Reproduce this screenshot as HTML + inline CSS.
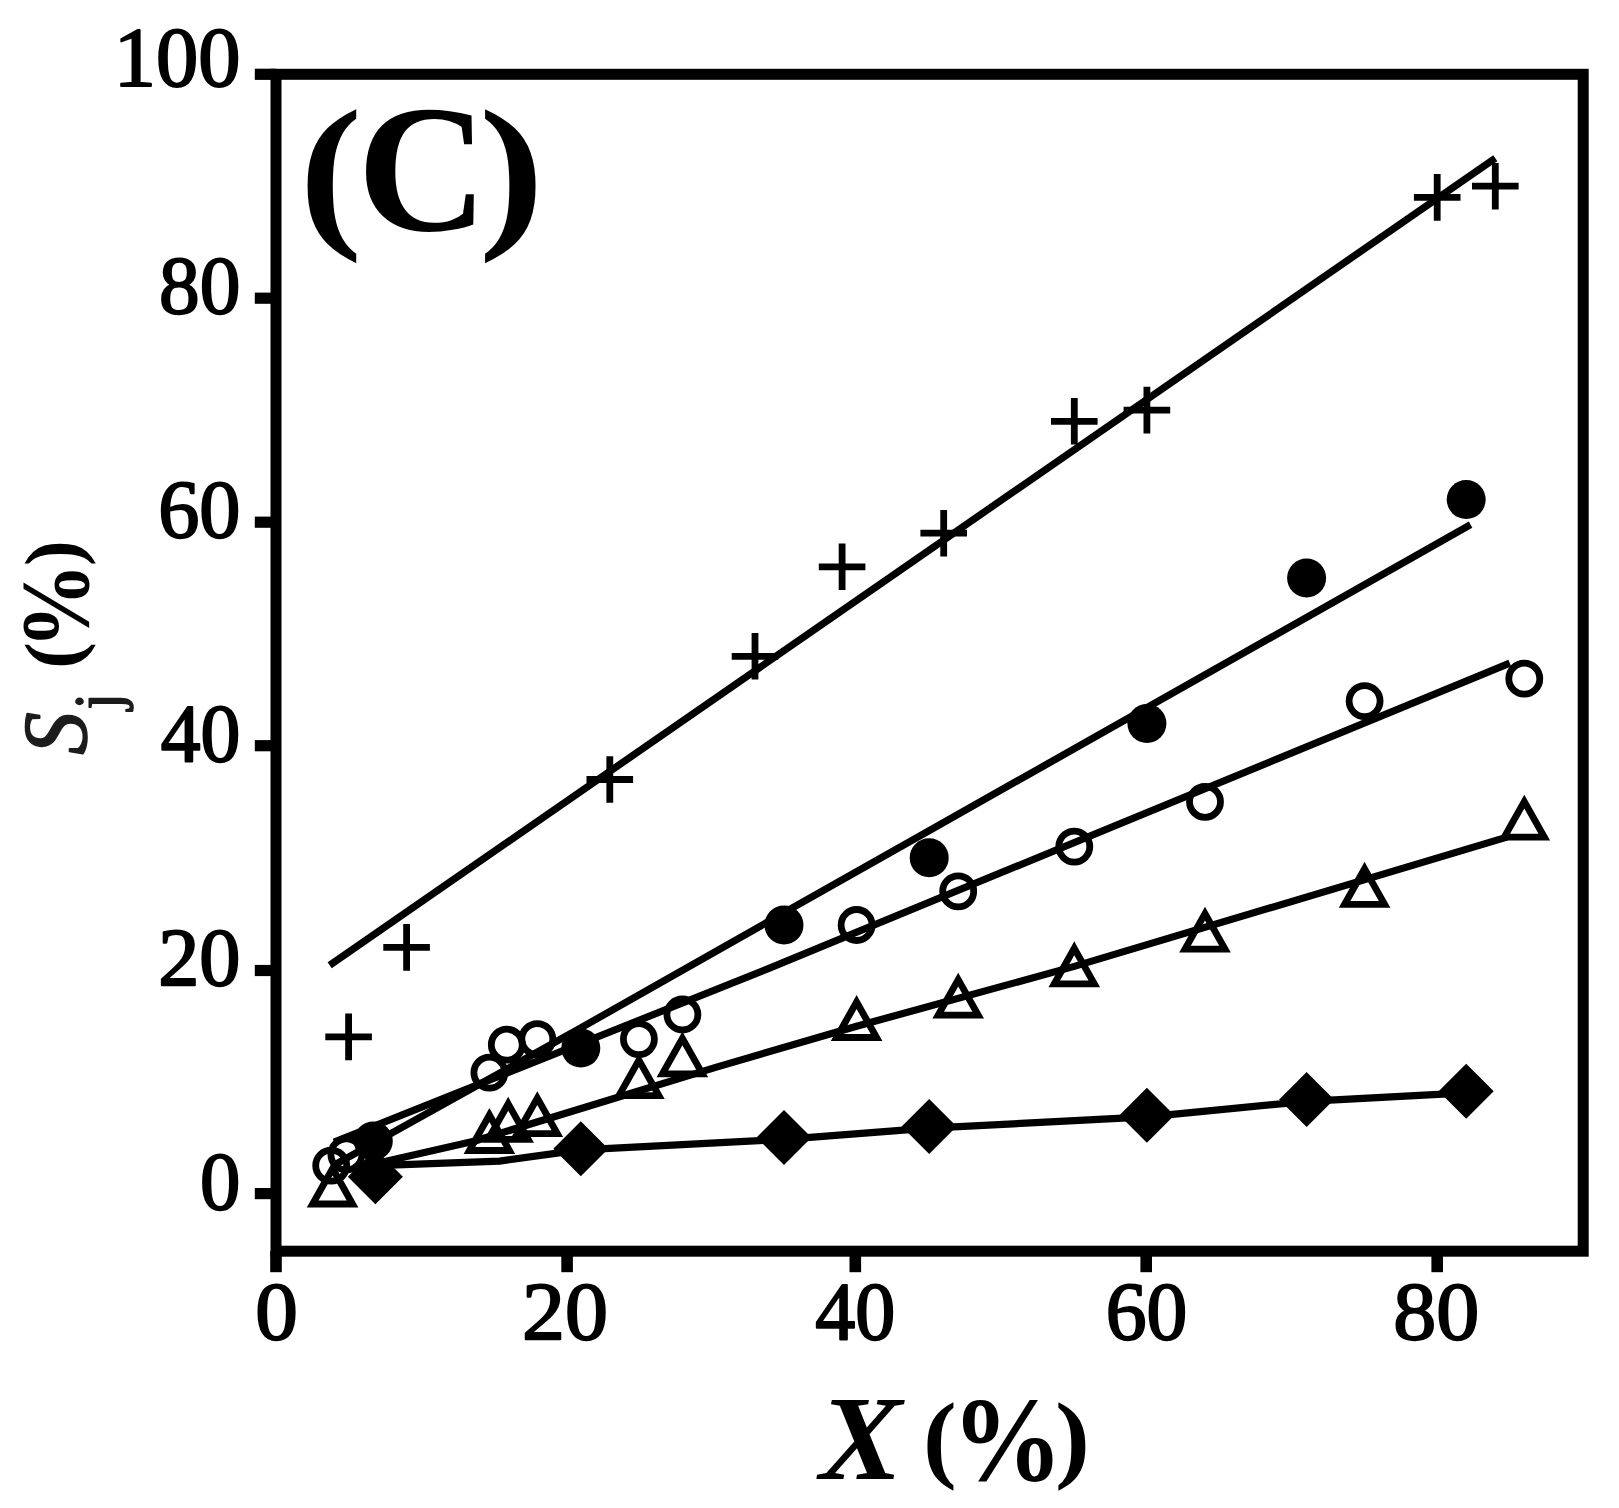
<!DOCTYPE html>
<html lang="en"><head><meta charset="utf-8"><title>Selectivity vs conversion (C)</title>
<style>
html,body{margin:0;padding:0;background:#fff;}
body{width:1619px;height:1508px;overflow:hidden;}
svg{display:block;}
svg text{font-family:"Liberation Serif",serif;font-size:100px;}
</style></head><body>
<svg width="1619" height="1508" viewBox="0 0 1619 1508" role="img" aria-label="Plot (C): selectivity Sj (%) versus conversion X (%)">
<defs><filter id="soft" x="0" y="0" width="1619" height="1508" filterUnits="userSpaceOnUse"><feGaussianBlur stdDeviation="0.7"/></filter></defs>
<rect width="1619" height="1508" fill="#fff"/>
<g filter="url(#soft)">
<!-- data series: fitted lines and markers -->
<g stroke="#000" stroke-width="7.2" stroke-linecap="butt" fill="none">
<line x1="329.7" y1="965.3" x2="1495.3" y2="158.2"/>
<polyline points="334.1,1165.1 580.8,1027.9 784.0,912.7 1470.6,524.7" stroke-linejoin="round"/>
<polyline points="334.1,1142.1 769.5,968.1 1509.8,663.1" stroke-linejoin="round"/>
<polyline points="376.2,1163.4 474.9,1141.0 716.5,1067.1 856.6,1026.3 1074.3,966.4 1506.9,837.1" stroke-linejoin="round"/>
<polyline points="376.2,1165.6 499.5,1161.1 580.8,1149.9 784.0,1139.3 929.2,1128.1 1146.9,1116.9 1306.6,1101.3 1466.2,1092.9" stroke-linejoin="round"/>
</g>
<g stroke="#000" stroke-width="6.8" fill="none">
<path d="M325.3 1036.9H371.9M348.6 1013.6V1060.2"/>
<path d="M383.3 947.4H429.9M406.6 924.1V970.7"/>
<path d="M586.5 779.5H633.1M609.8 756.2V802.8"/>
<path d="M731.7 656.3H778.3M755.0 633.0V679.6"/>
<path d="M818.8 566.8H865.4M842.1 543.5V590.1"/>
<path d="M920.4 533.2H967.0M943.7 509.9V556.5"/>
<path d="M1051.0 421.3H1097.6M1074.3 398.0V444.6"/>
<path d="M1123.6 410.1H1170.2M1146.9 386.8V433.4"/>
<path d="M1413.9 197.4H1460.5M1437.2 174.1V220.7"/>
<path d="M1472.0 186.2H1518.6M1495.3 162.9V209.5"/>
<circle cx="331.2" cy="1165.6" r="15.5"/>
<circle cx="346.4" cy="1154.4" r="15.5"/>
<circle cx="489.4" cy="1072.7" r="15.5"/>
<circle cx="506.8" cy="1044.7" r="15.5"/>
<circle cx="537.3" cy="1039.1" r="15.5"/>
<circle cx="638.9" cy="1039.1" r="15.5"/>
<circle cx="682.4" cy="1014.5" r="15.5"/>
<circle cx="856.6" cy="925.0" r="15.5"/>
<circle cx="958.2" cy="891.4" r="15.5"/>
<circle cx="1074.3" cy="846.6" r="15.5"/>
<circle cx="1205.0" cy="801.8" r="15.5"/>
<circle cx="1364.6" cy="701.1" r="15.5"/>
<circle cx="1524.3" cy="678.7" r="15.5"/>
<path d="M332.6 1168.5L352.6 1204.0H312.6Z" stroke-linejoin="miter"/>
<path d="M489.4 1115.0L509.4 1150.5H469.4Z" stroke-linejoin="miter"/>
<path d="M508.2 1103.8L528.2 1139.3H488.2Z" stroke-linejoin="miter"/>
<path d="M537.3 1098.2L557.3 1133.7H517.3Z" stroke-linejoin="miter"/>
<path d="M638.9 1060.2L658.9 1095.7H618.9Z" stroke-linejoin="miter"/>
<path d="M682.4 1038.4L702.4 1073.9H662.4Z" stroke-linejoin="miter"/>
<path d="M856.6 1002.0L876.6 1037.5H836.6Z" stroke-linejoin="miter"/>
<path d="M958.2 979.6L978.2 1015.1H938.2Z" stroke-linejoin="miter"/>
<path d="M1074.3 948.3L1094.3 983.8H1054.3Z" stroke-linejoin="miter"/>
<path d="M1205.0 913.6L1225.0 949.1H1185.0Z" stroke-linejoin="miter"/>
<path d="M1364.6 868.8L1384.6 904.3H1344.6Z" stroke-linejoin="miter"/>
<path d="M1524.3 801.6L1544.3 837.1H1504.3Z" stroke-linejoin="miter"/>
</g>
<g fill="#000" stroke="none">
<circle cx="373.3" cy="1141.0" r="19.5"/>
<circle cx="580.8" cy="1048.1" r="19.5"/>
<circle cx="784.0" cy="925.0" r="19.5"/>
<circle cx="929.2" cy="857.8" r="19.5"/>
<circle cx="1146.9" cy="723.5" r="19.5"/>
<circle cx="1306.6" cy="578.0" r="19.5"/>
<circle cx="1466.2" cy="499.6" r="19.5"/>
<path d="M375.4 1149.3L402.9 1176.8L375.4 1204.3L347.9 1176.8Z"/>
<path d="M580.8 1121.3L608.3 1148.8L580.8 1176.3L553.3 1148.8Z"/>
<path d="M784.0 1110.1L811.5 1137.6L784.0 1165.1L756.5 1137.6Z"/>
<path d="M929.2 1098.9L956.7 1126.4L929.2 1153.9L901.7 1126.4Z"/>
<path d="M1146.9 1087.7L1174.4 1115.2L1146.9 1142.7L1119.4 1115.2Z"/>
<path d="M1306.6 1072.1L1334.1 1099.6L1306.6 1127.1L1279.1 1099.6Z"/>
<path d="M1466.2 1063.7L1493.7 1091.2L1466.2 1118.7L1438.7 1091.2Z"/>
</g>
<!-- plot frame and tick marks -->
<rect x="276.0" y="74.3" width="1307.2" height="1176.9" fill="none" stroke="#000" stroke-width="11.0"/>
<rect x="254.8" y="68.7" width="21.2" height="11.2" fill="#000"/>
<rect x="254.8" y="292.6" width="21.2" height="11.2" fill="#000"/>
<rect x="254.8" y="516.6" width="21.2" height="11.2" fill="#000"/>
<rect x="254.8" y="740.1" width="21.2" height="11.2" fill="#000"/>
<rect x="254.8" y="964.9" width="21.2" height="11.2" fill="#000"/>
<rect x="254.8" y="1188.0" width="21.2" height="11.2" fill="#000"/>
<rect x="270.2" y="1251.2" width="11.6" height="21.0" fill="#000"/>
<rect x="561.3" y="1251.2" width="11.6" height="21.0" fill="#000"/>
<rect x="849.5" y="1251.2" width="11.6" height="21.0" fill="#000"/>
<rect x="1140.4" y="1251.2" width="11.6" height="21.0" fill="#000"/>
<rect x="1431.4" y="1251.2" width="11.6" height="21.0" fill="#000"/>
<!-- tick labels, panel label and axis titles -->
<text transform="matrix(0.8453 0 0 0.8412 113.74 86.32)" font-style="normal" font-weight="normal" fill="#000" stroke="#000" stroke-width="2.0" stroke-linejoin="round" vector-effect="non-scaling-stroke">100</text>
<text transform="matrix(0.8138 0 0 0.8324 159.06 313.14)" font-style="normal" font-weight="normal" fill="#000" stroke="#000" stroke-width="2.0" stroke-linejoin="round" vector-effect="non-scaling-stroke">80</text>
<text transform="matrix(0.8226 0 0 0.8324 158.21 537.14)" font-style="normal" font-weight="normal" fill="#000" stroke="#000" stroke-width="2.0" stroke-linejoin="round" vector-effect="non-scaling-stroke">60</text>
<text transform="matrix(0.7969 0 0 0.8324 160.70 760.64)" font-style="normal" font-weight="normal" fill="#000" stroke="#000" stroke-width="2.0" stroke-linejoin="round" vector-effect="non-scaling-stroke">40</text>
<text transform="matrix(0.8226 0 0 0.8324 158.21 985.44)" font-style="normal" font-weight="normal" fill="#000" stroke="#000" stroke-width="2.0" stroke-linejoin="round" vector-effect="non-scaling-stroke">20</text>
<text transform="matrix(0.8068 0 0 0.8324 200.08 1208.54)" font-style="normal" font-weight="normal" fill="#000" stroke="#000" stroke-width="2.0" stroke-linejoin="round" vector-effect="non-scaling-stroke">0</text>
<text transform="matrix(0.8523 0 0 0.8353 255.24 1339.33)" font-style="normal" font-weight="normal" fill="#000" stroke="#000" stroke-width="2.0" stroke-linejoin="round" vector-effect="non-scaling-stroke">0</text>
<text transform="matrix(0.8602 0 0 0.8353 522.06 1339.33)" font-style="normal" font-weight="normal" fill="#000" stroke="#000" stroke-width="2.0" stroke-linejoin="round" vector-effect="non-scaling-stroke">20</text>
<text transform="matrix(0.8000 0 0 0.8353 815.20 1339.33)" font-style="normal" font-weight="normal" fill="#000" stroke="#000" stroke-width="2.0" stroke-linejoin="round" vector-effect="non-scaling-stroke">40</text>
<text transform="matrix(0.8161 0 0 0.8353 1105.74 1339.33)" font-style="normal" font-weight="normal" fill="#000" stroke="#000" stroke-width="2.0" stroke-linejoin="round" vector-effect="non-scaling-stroke">60</text>
<text transform="matrix(0.8606 0 0 0.8353 1393.22 1339.33)" font-style="normal" font-weight="normal" fill="#000" stroke="#000" stroke-width="2.0" stroke-linejoin="round" vector-effect="non-scaling-stroke">80</text>
<g id="panel-label"><text transform="matrix(1.8926 0 0 1.6924 299.13 227.37)" font-style="normal" font-weight="bold" fill="#000">(</text><text transform="matrix(1.8049 0 0 1.8147 357.28 229.77)" font-style="normal" font-weight="bold" fill="#000">C</text><text transform="matrix(1.9654 0 0 1.6924 478.70 227.37)" font-style="normal" font-weight="bold" fill="#000">)</text></g>
<g id="x-title"><text transform="matrix(1.2403 0 0 1.2076 819.42 1479.49)" font-style="italic" font-weight="bold" fill="#000">X</text> <text transform="matrix(1.0111 0 0 0.9674 922.96 1469.72)" font-style="normal" font-weight="bold" fill="#000">(</text><text transform="matrix(1.1148 0 0 1.2029 951.55 1480.39)" font-style="normal" font-weight="bold" fill="#000">%</text><text transform="matrix(1.0500 0 0 0.9674 1055.05 1469.72)" font-style="normal" font-weight="bold" fill="#000">)</text></g>
<g id="y-title"><text transform="matrix(0 -0.8542 0.9103 0 86.38 754.65)" font-style="italic" font-weight="normal" fill="#1c1c1c" stroke="#1c1c1c" stroke-width="1.6" stroke-linejoin="round" vector-effect="non-scaling-stroke">S</text><text transform="matrix(0 -0.5826 0.6609 0 118.92 709.45)" font-style="normal" font-weight="normal" fill="#1c1c1c" stroke="#1c1c1c" stroke-width="1.6" stroke-linejoin="round" vector-effect="non-scaling-stroke">j</text> <text transform="matrix(0 -0.7963 0.7837 0 79.26 668.69)" font-style="normal" font-weight="bold" fill="#000">(</text><text transform="matrix(0 -0.8519 0.9809 0 88.04 648.52)" font-style="normal" font-weight="bold" fill="#000">%</text><text transform="matrix(0 -0.7731 0.7837 0 79.26 565.92)" font-style="normal" font-weight="bold" fill="#000">)</text></g>
</g>
</svg>
</body></html>
